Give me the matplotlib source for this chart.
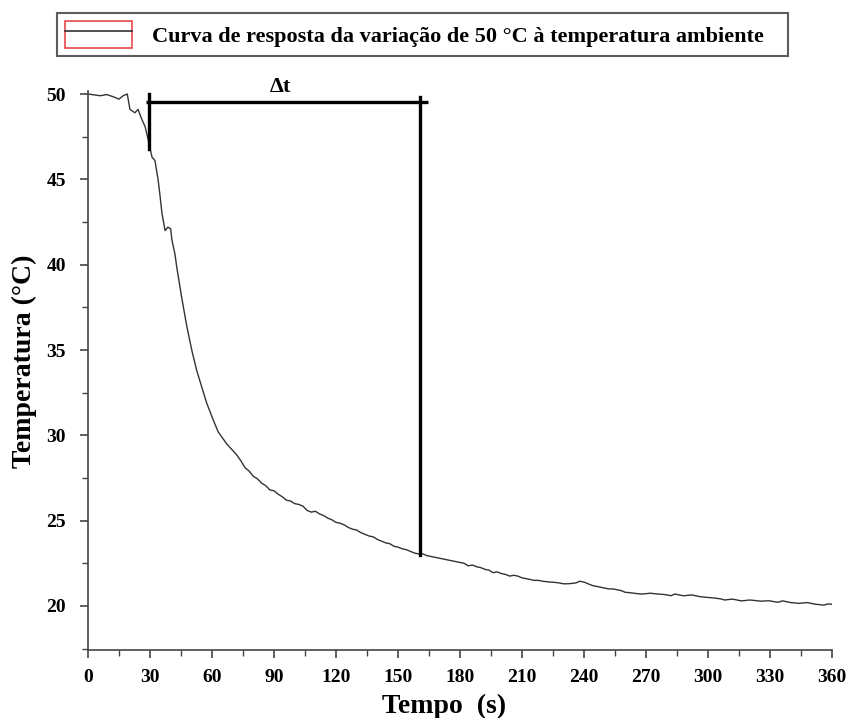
import matplotlib
matplotlib.use("Agg")
import matplotlib.pyplot as plt
from matplotlib.patches import Rectangle
from matplotlib.lines import Line2D
from matplotlib.legend_handler import HandlerTuple
from matplotlib.ticker import MultipleLocator

# curve (time in s, temperature in degC)
tempo = [0, 3, 6, 9, 12, 15, 17, 19, 20.3, 22.7, 24.2, 26.1, 27.6, 29.0, 30.0,
         31.0, 32.4, 33.9, 34.8, 35.8, 37.3, 38.7, 40.0, 40.6, 42.1, 42.9, 45.3,
         47.8, 50.2, 52.6, 55.0, 57.4, 60.6, 63.0, 67.1,
         72, 74, 76, 78, 80, 82, 84, 86, 88, 90, 92, 94, 96, 98, 100, 102, 104,
         106, 108, 110, 112, 114, 116, 118, 120, 122, 124, 126, 128, 130, 132,
         134, 136, 138, 140, 142, 144, 146, 148, 150, 152, 154, 156, 158, 160,
         162, 164, 166, 168, 170, 172, 174, 176, 178, 180, 182, 184, 186, 188,
         190, 192, 194, 196, 198, 200, 202, 204, 206, 208, 210, 212, 214, 216,
         218, 220, 222, 224, 226, 228, 230, 232, 234, 236, 238, 240, 242, 244,
         246, 248, 250, 252, 254, 256, 258, 260, 262, 264, 266, 268, 270, 272,
         274, 276, 278, 280, 282, 284, 286, 288, 290, 292, 294, 296, 298, 300,
         302, 304, 306, 308, 310, 312, 314, 316, 318, 320, 322, 324, 326, 328,
         330, 332, 334, 336, 338, 340, 342, 344, 346, 348, 350, 352, 354, 356,
         358, 360]
temperatura = [50.0, 49.95, 49.9, 49.97, 49.85, 49.7, 49.9, 50.0, 49.1, 48.9,
               49.1, 48.5, 48.1, 47.4, 46.8, 46.3, 46.1, 45.0, 44.1, 43.0, 42.0,
               42.2, 42.1, 41.45, 40.6, 39.9, 38.1, 36.4, 35.0, 33.8, 32.85,
               31.9, 30.9, 30.2, 29.5,
               28.85, 28.5, 28.1, 27.9, 27.6, 27.45, 27.2, 27.05, 26.8, 26.75,
               26.55, 26.4, 26.2, 26.15, 26.0, 25.95, 25.85, 25.6, 25.5, 25.55,
               25.4, 25.3, 25.15, 25.05, 24.9, 24.85, 24.75, 24.6, 24.5, 24.45,
               24.3, 24.2, 24.1, 24.05, 23.9, 23.8, 23.7, 23.65, 23.5, 23.45,
               23.35, 23.3, 23.2, 23.1, 23.05, 23.05, 22.95, 22.9, 22.85, 22.8,
               22.75, 22.7, 22.65, 22.6, 22.55, 22.5, 22.35, 22.4, 22.3, 22.25,
               22.15, 22.1, 21.95, 22.0, 21.9, 21.85, 21.75, 21.8, 21.75, 21.65,
               21.6, 21.55, 21.5, 21.5, 21.45, 21.42, 21.4, 21.38, 21.35, 21.3,
               21.3, 21.32, 21.35, 21.45, 21.4, 21.3, 21.2, 21.15, 21.1, 21.05,
               21.0, 21.0, 20.95, 20.9, 20.8, 20.78, 20.75, 20.72, 20.7, 20.72,
               20.75, 20.72, 20.7, 20.68, 20.65, 20.6, 20.7, 20.65, 20.6, 20.62,
               20.65, 20.6, 20.55, 20.52, 20.5, 20.48, 20.45, 20.42, 20.35,
               20.38, 20.4, 20.35, 20.3, 20.32, 20.35, 20.33, 20.3, 20.28, 20.3,
               20.3, 20.25, 20.22, 20.3, 20.25, 20.2, 20.18, 20.15, 20.18, 20.2,
               20.15, 20.1, 20.08, 20.05, 20.12, 20.1]

# delta t bracket
dt_inicio = 29.5
dt_fim = 160.6
dt_nivel = 49.53
dt_base_inicio = 46.8
dt_base_fim = 23.0

legenda = "Curva de resposta da variação de 50 °C à temperatura ambiente   "

plt.rcParams["font.family"] = ["Liberation Serif", "DejaVu Serif"]
plt.rcParams["font.weight"] = "bold"

fig = plt.figure(figsize=(8.51, 7.18), dpi=100)
ax = fig.add_axes([0.1034, 0.0947, 0.8743, 0.7791])

ax.plot(tempo, temperatura, color="#333333", lw=1.0)

# delta t annotation
ax.plot([dt_inicio - 1.5, dt_fim + 3.8], [dt_nivel, dt_nivel], color="black", lw=2.4,
        clip_on=False, solid_capstyle="butt")
ax.plot([dt_inicio, dt_inicio], [50.0, dt_base_inicio], color="black", lw=2.4,
        clip_on=False)
ax.plot([dt_fim, dt_fim], [49.8, dt_base_fim], color="black", lw=2.4,
        clip_on=False)
ax.text((dt_inicio + dt_fim) / 2 - 2, 50.12, "Δt", ha="center", va="baseline",
        fontsize=16, fontweight="bold", clip_on=False)

ax.set_xlim(0, 360)
ax.set_ylim(17.42, 50.2)
ax.xaxis.set_major_locator(MultipleLocator(30))
ax.xaxis.set_minor_locator(MultipleLocator(15))
ax.yaxis.set_major_locator(MultipleLocator(5))
ax.yaxis.set_minor_locator(MultipleLocator(2.5))
ax.set_yticks([20, 25, 30, 35, 40, 45, 50])

for s in ["top", "right"]:
    ax.spines[s].set_visible(False)
for s in ["left", "bottom"]:
    ax.spines[s].set_color("#444444")
    ax.spines[s].set_linewidth(1.2)

ax.tick_params(which="major", direction="out", length=6, width=1.2,
               color="#444444", labelsize=14)
ax.tick_params(axis="x", which="major", pad=8)
ax.tick_params(axis="y", which="major", pad=10)
ax.tick_params(which="minor", direction="out", length=4, width=1.0,
               color="#444444")
for lab in ax.get_xticklabels() + ax.get_yticklabels():
    lab.set_fontweight("bold")

ax.set_xlabel("Tempo  (s)", fontsize=20, fontweight="bold")
ax.set_ylabel("Temperatura (°C)", fontsize=20, fontweight="bold")
ax.xaxis.set_label_coords(0.4785, -0.078)
ax.yaxis.set_label_coords(-0.0685, 0.5166)

caixa = Rectangle((0, 0), 1, 1, facecolor="none", edgecolor="#e8474c", lw=1.2)
linha = Line2D([], [], color="#333333", lw=1.2)
leg = fig.legend([(caixa, linha)], [legenda], handler_map={tuple: HandlerTuple(ndivide=1)},
                 loc="center", bbox_to_anchor=(0.497, 0.952),
                 frameon=True, fancybox=False, edgecolor="#333333",
                 handlelength=3.0, handleheight=1.5, borderpad=0.35,
                 handletextpad=0.9, borderaxespad=0.0,
                 prop={"weight": "bold", "size": 16})
leg.get_frame().set_linewidth(1.5)

fig.savefig("out.png", dpi=100)
